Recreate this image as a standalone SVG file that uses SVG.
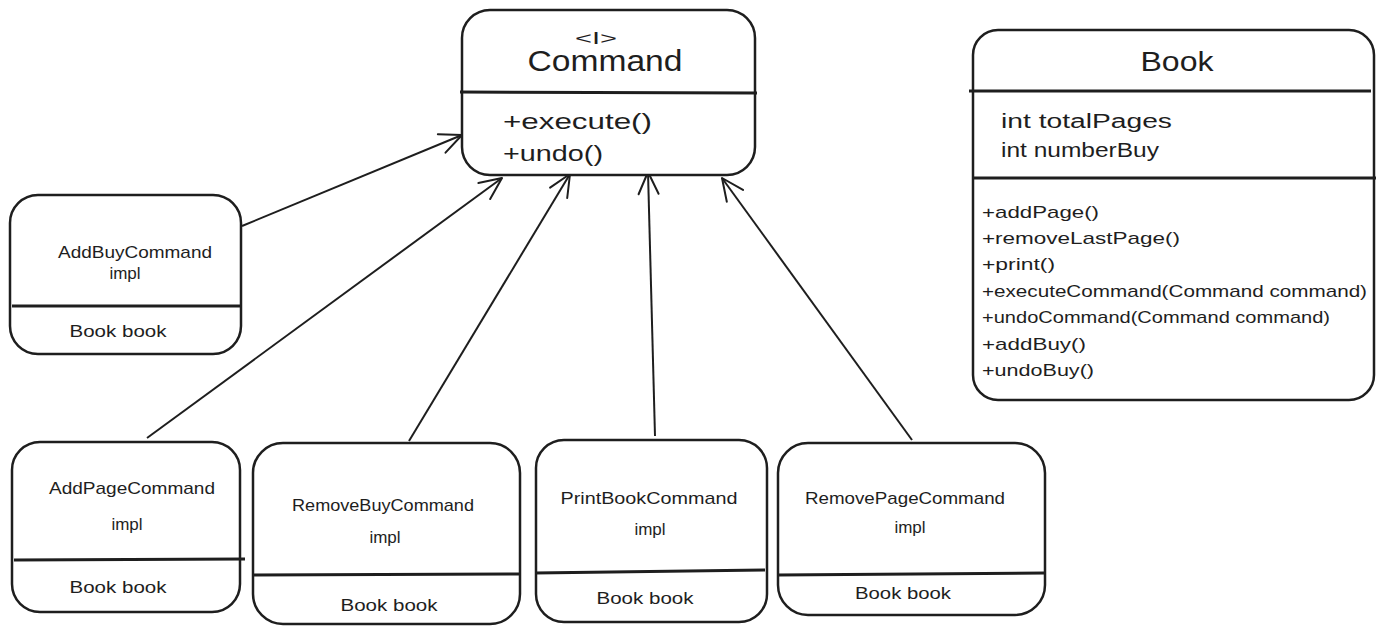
<svg xmlns="http://www.w3.org/2000/svg" width="1385" height="634" viewBox="0 0 1385 634">
<defs>
<style>
.box{fill:#fff;stroke:#1e1e1e;stroke-width:2.5;stroke-linejoin:round}
.div{stroke:#1e1e1e;stroke-width:3}
.t{font-family:"Liberation Sans",Arial,sans-serif;fill:#1e1e1e}
.s{font-size:17px}
.m{font-size:20px}
.c{text-anchor:middle}
.edge{stroke:#1e1e1e;stroke-width:2;fill:none}
</style>
<marker id="arr" markerUnits="userSpaceOnUse" markerWidth="30" markerHeight="30" refX="24" refY="12" orient="auto" viewBox="0 0 30 24">
<path d="M2,2 L24,12 L2,22" fill="none" stroke="#1e1e1e" stroke-width="2" stroke-linecap="round" stroke-linejoin="round"/>
</marker>
</defs>
<rect width="1385" height="634" fill="#fff"/>
<g id="connectors">
<line class="edge" x1="242" y1="226" x2="462" y2="135" marker-end="url(#arr)"/>
<line class="edge" x1="147" y1="438" x2="502" y2="178" marker-end="url(#arr)"/>
<line class="edge" x1="409" y1="441" x2="570" y2="174" marker-end="url(#arr)"/>
<line class="edge" x1="655" y1="436" x2="648" y2="172" marker-end="url(#arr)"/>
<line class="edge" x1="912" y1="440" x2="722" y2="178" marker-end="url(#arr)"/>
</g>
<g id="command">
<rect class="box" x="462" y="10" width="293" height="165" rx="28"/>
<line class="div" x1="460" y1="92" x2="757" y2="93"/>
<text class="t c" x="596" y="44" font-size="16" textLength="42" lengthAdjust="spacingAndGlyphs">&lt;I&gt;</text>
<text class="t c" x="605" y="71" font-size="29" textLength="155" lengthAdjust="spacingAndGlyphs">Command</text>
<text class="t" x="503" y="129" font-size="22" textLength="149" lengthAdjust="spacingAndGlyphs">+execute()</text>
<text class="t" x="503" y="161" font-size="22" textLength="100" lengthAdjust="spacingAndGlyphs">+undo()</text>
</g>
<g id="book">
<rect class="box" x="973" y="30" width="401" height="370" rx="25"/>
<line class="div" x1="969" y1="91" x2="1371" y2="91"/>
<line class="div" x1="972" y1="178" x2="1376" y2="178"/>
<text class="t c" x="1177" y="71" font-size="27" textLength="73" lengthAdjust="spacingAndGlyphs">Book</text>
<text class="t m" x="1001" y="128" textLength="171" lengthAdjust="spacingAndGlyphs">int totalPages</text>
<text class="t m" x="1001" y="157" textLength="158" lengthAdjust="spacingAndGlyphs">int numberBuy</text>
<text class="t s" x="982" y="218" textLength="117" lengthAdjust="spacingAndGlyphs">+addPage()</text>
<text class="t s" x="982" y="244" textLength="198" lengthAdjust="spacingAndGlyphs">+removeLastPage()</text>
<text class="t s" x="982" y="270" textLength="73" lengthAdjust="spacingAndGlyphs">+print()</text>
<text class="t s" x="982" y="297" textLength="385" lengthAdjust="spacingAndGlyphs">+executeCommand(Command command)</text>
<text class="t s" x="982" y="323" textLength="348" lengthAdjust="spacingAndGlyphs">+undoCommand(Command command)</text>
<text class="t s" x="982" y="350" textLength="104" lengthAdjust="spacingAndGlyphs">+addBuy()</text>
<text class="t s" x="982" y="376" textLength="112" lengthAdjust="spacingAndGlyphs">+undoBuy()</text>
</g>
<g id="addBuyCommand">
<rect class="box" x="10" y="195" width="231" height="159" rx="28"/>
<line class="div" x1="12" y1="306" x2="241" y2="306"/>
<text class="t s c" x="135" y="258" textLength="154" lengthAdjust="spacingAndGlyphs">AddBuyCommand</text>
<text class="t s c" x="125" y="279">impl</text>
<text class="t s c" x="118" y="337" textLength="97" lengthAdjust="spacingAndGlyphs">Book book</text>
</g>
<g id="addPageCommand">
<rect class="box" x="12" y="442" width="228" height="170" rx="28"/>
<line class="div" x1="14" y1="560" x2="245" y2="559"/>
<text class="t s c" x="132" y="494" textLength="166" lengthAdjust="spacingAndGlyphs">AddPageCommand</text>
<text class="t s c" x="127" y="530">impl</text>
<text class="t s c" x="118" y="593" textLength="97" lengthAdjust="spacingAndGlyphs">Book book</text>
</g>
<g id="removeBuyCommand">
<rect class="box" x="253" y="443" width="267" height="181" rx="30"/>
<line class="div" x1="253" y1="575" x2="520" y2="574"/>
<text class="t s c" x="383" y="511" textLength="182" lengthAdjust="spacingAndGlyphs">RemoveBuyCommand</text>
<text class="t s c" x="385" y="543">impl</text>
<text class="t s c" x="389" y="611" textLength="97" lengthAdjust="spacingAndGlyphs">Book book</text>
</g>
<g id="printBookCommand">
<rect class="box" x="536" y="440" width="231" height="182" rx="28"/>
<line class="div" x1="535" y1="573" x2="765" y2="570"/>
<text class="t s c" x="649" y="504" textLength="177" lengthAdjust="spacingAndGlyphs">PrintBookCommand</text>
<text class="t s c" x="650" y="535">impl</text>
<text class="t s c" x="645" y="604" textLength="97" lengthAdjust="spacingAndGlyphs">Book book</text>
</g>
<g id="removePageCommand">
<rect class="box" x="778" y="443" width="267" height="172" rx="30"/>
<line class="div" x1="778" y1="575" x2="1045" y2="573"/>
<text class="t s c" x="905" y="504" textLength="200" lengthAdjust="spacingAndGlyphs">RemovePageCommand</text>
<text class="t s c" x="910" y="533">impl</text>
<text class="t s c" x="903" y="599" textLength="96" lengthAdjust="spacingAndGlyphs">Book book</text>
</g>
</svg>
